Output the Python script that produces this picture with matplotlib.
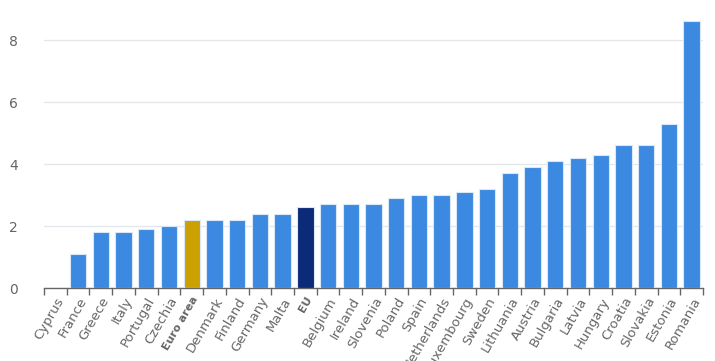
import numpy as np
import matplotlib
matplotlib.use("Agg")
import matplotlib.pyplot as plt

countries = ["Cyprus", "France", "Greece", "Italy", "Portugal", "Czechia", "Euro area",
             "Denmark", "Finland", "Germany", "Malta", "EU", "Belgium", "Ireland",
             "Slovenia", "Poland", "Spain", "Netherlands", "Luxembourg", "Sweden",
             "Lithuania", "Austria", "Bulgaria", "Latvia", "Hungary", "Croatia",
             "Slovakia", "Estonia", "Romania"]
values = [0.0, 1.1, 1.8, 1.8, 1.9, 2.0, 2.2,
          2.2, 2.2, 2.4, 2.4, 2.6, 2.7, 2.7,
          2.7, 2.9, 3.0, 3.0, 3.1, 3.2,
          3.7, 3.9, 4.1, 4.2, 4.3, 4.6,
          4.6, 5.3, 8.6]
yticks = [0, 2, 4, 6, 8]

colors = []
for c in countries:
    if c == "Euro area":
        colors.append("#cca000")
    elif c == "EU":
        colors.append("#0b2a78")
    else:
        colors.append("#3b89e0")

fig = plt.figure(figsize=(7.15, 3.61), dpi=100)
ax = fig.add_axes([44 / 715, 73 / 361, 659 / 715, 278 / 361])

x = np.arange(len(countries))
ax.bar(x, values, width=0.72, color=colors, edgecolor="#d8e8f8", linewidth=0.8, zorder=3)

ax.set_xlim(-0.5, len(countries) - 0.5)
ax.set_ylim(0, 8.97)
ax.set_yticks(yticks)
ax.set_yticklabels([str(t) for t in yticks])
ax.grid(axis="y", color="#e3e6ea", linewidth=0.9, zorder=0)

for s in ["top", "right", "left"]:
    ax.spines[s].set_visible(False)
ax.spines["bottom"].set_color("#666666")
ax.spines["bottom"].set_linewidth(1.0)

ax.tick_params(axis="y", length=0, pad=19, labelsize=10, labelcolor="#666666")
ax.set_xticks(x)
ax.set_xticklabels(countries, rotation=60, ha="right", rotation_mode="anchor")
ax.tick_params(axis="x", which="major", length=0, pad=5, labelsize=9.5, labelcolor="#666666")
ax.set_xticks(np.arange(len(countries) + 1) - 0.5, minor=True)
ax.tick_params(axis="x", which="minor", length=5, color="#666666", width=1)

for lbl in ax.get_xticklabels():
    if lbl.get_text() in ("Euro area", "EU"):
        lbl.set_fontweight("bold")
        lbl.set_fontsize(8)

fig.savefig("out.png", dpi=100)
